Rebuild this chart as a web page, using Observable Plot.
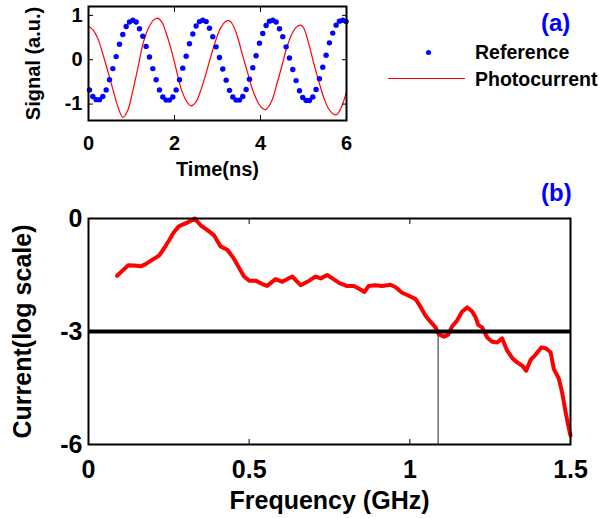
<!DOCTYPE html>
<html><head><meta charset="utf-8">
<script src="https://cdn.jsdelivr.net/npm/d3@7"></script>
<script src="https://cdn.jsdelivr.net/npm/@observablehq/plot@0.6"></script>
<style>
body{margin:0;background:#fff;}
#wrap{position:relative;width:599px;height:518px;font-family:"Liberation Sans",Arial,sans-serif;overflow:hidden;background:#fff;}
.panel{position:absolute;left:0;}
.lab{position:absolute;font-weight:bold;white-space:nowrap;line-height:1;font-family:"Liberation Sans",Arial,sans-serif;}
</style></head><body><div id="wrap"></div>
<script>
// ---------- Panel (a): time-domain signals ----------
const refTime = [0.023,0.101,0.178,0.256,0.333,0.411,0.488,0.566,0.643,0.721,0.798,0.876,0.953,1.031,1.108,1.186,1.263,1.341,1.418,1.496,1.573,
  1.651,1.728,1.806,1.883,1.961,2.038,2.116,2.193,2.271,2.348,2.426,2.503,2.581,2.658,2.736,2.813,2.891,2.968,3.046,3.123,3.201,
  3.278,3.356,3.433,3.511,3.588,3.666,3.743,3.821,3.898,3.976,4.053,4.131,4.208,4.286,4.363,4.441,4.518,4.596,4.673,4.751,4.828,
  4.906,4.983,5.061,5.138,5.216,5.293,5.371,5.448,5.526,5.603,5.681,5.758,5.836,5.913,5.991];
const refSignal = [-0.68,-0.83,-0.90,-0.90,-0.83,-0.68,-0.45,-0.20,0.07,0.35,0.57,0.75,0.85,0.89,0.85,0.70,0.53,0.30,0.06,-0.20,-0.45,
  -0.68,-0.84,-0.91,-0.91,-0.84,-0.68,-0.45,-0.19,0.08,0.36,0.58,0.76,0.86,0.89,0.86,0.71,0.52,0.29,0.05,-0.21,-0.46,
  -0.69,-0.84,-0.91,-0.91,-0.83,-0.67,-0.44,-0.18,0.09,0.37,0.59,0.77,0.87,0.89,0.85,0.70,0.52,0.29,0.04,-0.22,-0.47,
  -0.70,-0.85,-0.92,-0.92,-0.84,-0.67,-0.43,-0.17,0.10,0.38,0.60,0.78,0.87,0.89,0.86];
const photoTime = [0.00,0.10,0.22,0.33,0.45,0.57,0.68,0.80,0.91,1.03,1.15,1.26,1.38,1.50,1.60,1.70,1.80,1.92,2.04,2.15,2.27,2.38,2.50,
  2.61,2.73,2.84,2.96,3.08,3.19,3.27,3.35,3.47,3.58,3.70,3.81,3.93,4.05,4.13,4.26,4.38,4.50,4.61,4.73,4.84,4.93,5.00,5.12,5.23,
  5.35,5.47,5.58,5.70,5.77,5.88,6.00];
const photoSignal = [0.75,0.68,0.47,0.14,-0.26,-0.68,-1.05,-1.30,-1.15,-0.70,-0.18,0.33,0.68,0.88,0.94,0.86,0.62,0.24,-0.22,-0.64,-0.92,-1.04,-0.95,
  -0.69,-0.32,0.06,0.44,0.73,0.86,0.88,0.80,0.50,0.11,-0.29,-0.66,-0.94,-1.10,-1.12,-0.93,-0.55,-0.13,0.27,0.58,0.74,0.78,0.72,0.37,-0.05,
  -0.47,-0.85,-1.10,-1.23,-1.24,-1.07,-0.72];
const timeTicks = [0, 2, 4, 6];
const signalTicks = [-1, 0, 1];
const timeDomain = [0, 6];
const signalDomain = [-1.37, 1.2];

// ---------- Panel (b): frequency response ----------
const freqGHz = [0.089,0.105,0.124,0.142,0.163,0.178,0.198,0.219,0.234,0.250,0.265,0.281,0.307,0.331,0.349,0.369,0.390,0.411,0.432,0.452,
  0.468,0.484,0.500,0.520,0.541,0.556,0.582,0.603,0.634,0.660,0.687,0.707,0.723,0.743,0.759,0.780,0.803,0.826,0.841,0.859,0.872,0.893,
  0.914,0.940,0.955,0.976,0.997,1.018,1.033,1.049,1.064,1.080,1.090,1.106,1.119,1.132,1.147,1.163,1.179,1.194,1.205,1.213,1.225,1.241,
  1.256,1.272,1.287,1.303,1.319,1.334,1.350,1.362,1.376,1.391,1.410,1.424,1.438,1.448,1.464,1.474,1.485,1.493,1.500];
const currentLog = [-1.52,-1.39,-1.24,-1.25,-1.27,-1.21,-1.10,-0.99,-0.81,-0.59,-0.37,-0.21,-0.11,0.00,-0.18,-0.30,-0.44,-0.74,-0.83,-1.06,
  -1.30,-1.54,-1.65,-1.65,-1.74,-1.79,-1.61,-1.68,-1.54,-1.77,-1.65,-1.54,-1.59,-1.50,-1.59,-1.71,-1.79,-1.79,-1.86,-1.95,-1.79,-1.77,
  -1.79,-1.76,-1.82,-1.97,-2.05,-2.14,-2.34,-2.58,-2.74,-2.89,-3.07,-3.14,-3.09,-2.86,-2.71,-2.47,-2.36,-2.47,-2.63,-2.83,-2.89,-3.16,
  -3.27,-3.29,-3.18,-3.51,-3.71,-3.82,-3.91,-4.04,-3.75,-3.62,-3.42,-3.45,-3.55,-3.99,-4.26,-4.62,-5.15,-5.50,-5.76];
const freqTicks = [0, 0.5, 1, 1.5];
const currentTicks = [-6, -3, 0];
const freqDomain = [0, 1.5];
const currentDomain = [-6, 0];
const cutoffLevel = [-3];
const cutoffFreq = [1.088];

const FONT = '"Liberation Sans", Arial, sans-serif';
const refData = refTime.map((t, i) => ({t, v: refSignal[i]}));
const photoData = photoTime.map((t, i) => ({t, v: photoSignal[i]}));
const respData = freqGHz.map((f, i) => ({f, v: currentLog[i]}));

const plotA = Plot.plot({
  width: 599, height: 185,
  marginLeft: 88, marginRight: 253, marginTop: 6, marginBottom: 65,
  style: {fontFamily: FONT, fontSize: "20px", fontWeight: "bold", color: "black", background: "transparent", overflow: "visible"},
  x: {domain: timeDomain},
  y: {domain: signalDomain},
  marks: [
    Plot.line(photoData, {x: "t", y: "v", stroke: "#ff0000", strokeWidth: 1.2, curve: "catmull-rom"}),
    Plot.dot(refData, {x: "t", y: "v", r: 2.7, fill: "#0000ff", stroke: "none"}),
    Plot.axisX(timeTicks, {tickSize: -5, tickPadding: 20, tickFormat: d => String(d), label: "Time(ns)", labelAnchor: "center", labelOffset: 55, labelArrow: "none", fontSize: 20}),
    Plot.axisX(timeTicks, {anchor: "top", tickSize: -5, tickFormat: () => "", label: null}),
    Plot.axisY(signalTicks, {tickSize: -5, tickPadding: 11, tickFormat: d => String(d), label: "Signal (a.u.)", labelAnchor: "center", labelOffset: 63, labelArrow: "none", fontSize: 20}),
    Plot.axisY(signalTicks, {anchor: "right", tickSize: -5, tickFormat: () => "", label: null}),
    Plot.frame({stroke: "black", strokeWidth: 2})
  ]
});

const plotB = Plot.plot({
  width: 599, height: 333,
  marginLeft: 88, marginRight: 29, marginTop: 33, marginBottom: 74,
  style: {fontFamily: FONT, fontSize: "24px", fontWeight: "bold", color: "black", background: "transparent", overflow: "visible"},
  x: {domain: freqDomain},
  y: {domain: currentDomain},
  marks: [
    Plot.ruleX(cutoffFreq, {y1: currentDomain[0], y2: cutoffLevel[0], stroke: "#222", strokeWidth: 1}),
    Plot.line(respData, {x: "f", y: "v", stroke: "#ff0000", strokeWidth: 4, strokeLinejoin: "round", strokeLinecap: "round"}),
    Plot.ruleY(cutoffLevel, {stroke: "black", strokeWidth: 4}),
    Plot.axisX(freqTicks, {tickSize: -5, tickPadding: 21, tickFormat: d => String(d), label: "Frequency (GHz)", labelAnchor: "center", labelOffset: 64, labelArrow: "none", fontSize: 25}),
    Plot.axisX(freqTicks, {anchor: "top", tickSize: -5, tickFormat: () => "", label: null}),
    Plot.axisY(currentTicks, {tickSize: -5, tickPadding: 11, tickFormat: d => String(d), label: "Current(log scale)", labelAnchor: "center", labelOffset: 75, labelArrow: "none", fontSize: 25}),
    Plot.axisY(currentTicks, {anchor: "right", tickSize: -5, tickFormat: () => "", label: null}),
    Plot.frame({stroke: "black", strokeWidth: 2})
  ]
});

const wrap = document.getElementById("wrap");
plotA.classList.add("panel"); plotA.style.top = "0px";
plotB.classList.add("panel"); plotB.style.top = "185px";
wrap.appendChild(plotA);
wrap.appendChild(plotB);

function addLabel(text, left, top, size, color) {
  const d = document.createElement("div");
  d.className = "lab";
  d.textContent = text;
  d.style.left = left + "px";
  d.style.top = top + "px";
  d.style.fontSize = size + "px";
  d.style.color = color;
  wrap.appendChild(d);
  return d;
}
// panel tags
addLabel("(a)", 541, 11, 24, "#0000ff");
addLabel("(b)", 541, 181, 24, "#0000ff");
// legend for panel (a)
const legend = [
  {name: "Reference", kind: "dot", color: "#0000ff"},
  {name: "Photocurrent", kind: "line", color: "#ff0000"}
];
legend.forEach((item, i) => {
  const cy = 52 + i * 27;
  addLabel(item.name, 475, cy - 9.5, 19.5, "#000");
  const sym = document.createElement("div");
  sym.style.position = "absolute";
  if (item.kind === "dot") {
    sym.style.left = "425.5px"; sym.style.top = (cy - 2.5) + "px";
    sym.style.width = "5px"; sym.style.height = "5px";
    sym.style.borderRadius = "50%"; sym.style.background = item.color;
  } else {
    sym.style.left = "388px"; sym.style.top = (cy - 1) + "px";
    sym.style.width = "77px"; sym.style.height = "0px";
    sym.style.borderTop = "1px solid " + item.color;
  }
  wrap.appendChild(sym);
});
</script>
</body></html>
